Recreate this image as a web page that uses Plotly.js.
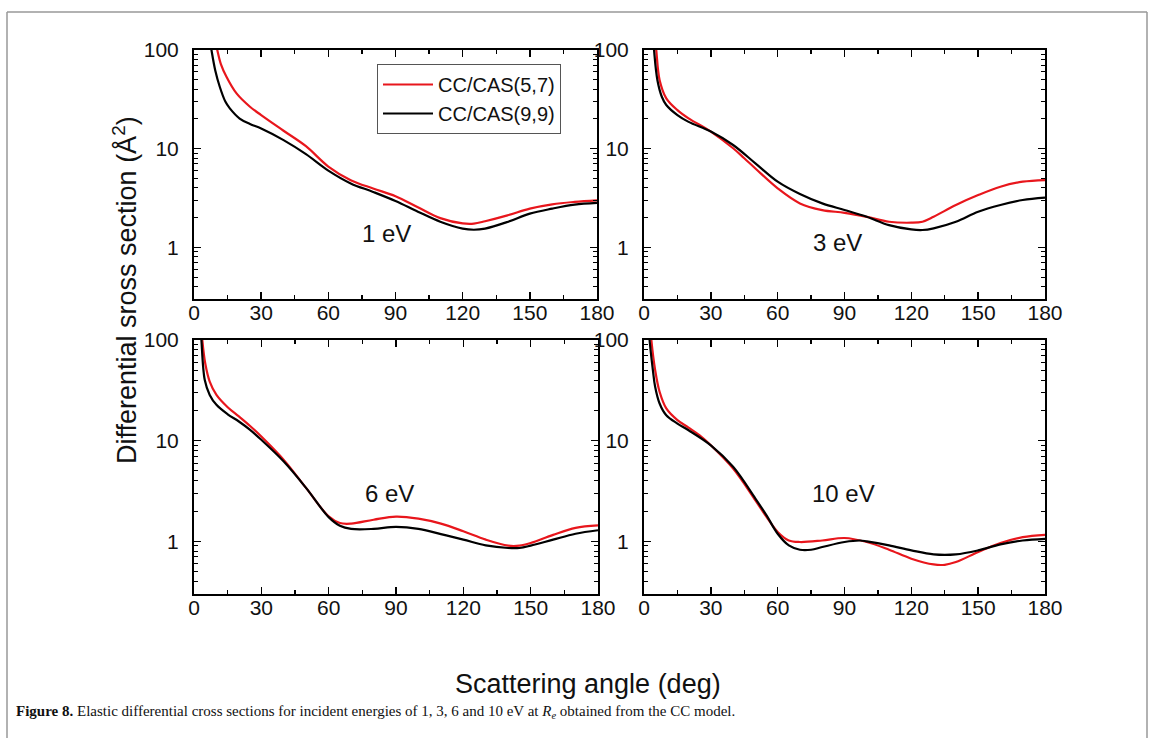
<!DOCTYPE html>
<html>
<head>
<meta charset="utf-8">
<script src="https://cdn.plot.ly/plotly-3.0.1.min.js"></script>
<style>html,body{margin:0;padding:0;background:#fff;}#chart{width:1154px;height:738px;}</style>
</head>
<body>
<div id="chart"></div>
<script>
// ---- data (scattering angle in deg, DCS in Å^2) ----
const seriesNames = ["CC/CAS(5,7)", "CC/CAS(9,9)"];
const panelLabels = ["1 eV", "3 eV", "6 eV", "10 eV"];
const xTickVals = [0, 30, 60, 90, 120, 150, 180];
const yTickVals = [1, 10, 100];

// 1 eV
const ang1_57 = [9, 10.4, 12, 14.5, 19, 25, 30, 40, 50, 60, 70, 80, 90, 100, 110, 120, 125, 130, 140, 150, 160, 170, 180];
const dcs1_57 = [140, 100, 72, 53.6, 36.3, 26.6, 21.9, 15.2, 10.6, 6.6, 4.8, 3.95, 3.3, 2.55, 1.98, 1.75, 1.74, 1.84, 2.11, 2.47, 2.73, 2.89, 3.0];
const ang1_99 = [6.8, 7.8, 9.5, 11.5, 14, 16, 20.4, 25, 30, 40, 50, 60, 70, 80, 90, 100, 110, 120, 125, 130, 140, 150, 160, 170, 180];
const dcs1_99 = [140, 100, 62, 42.4, 30, 25.6, 20.2, 17.8, 16.0, 12.2, 8.8, 6.0, 4.45, 3.65, 2.95, 2.3, 1.82, 1.55, 1.51, 1.55, 1.81, 2.2, 2.47, 2.71, 2.82];

// 3 eV
const ang3_57 = [4.8, 5.5, 7, 10, 15, 20, 30, 40, 45, 50, 60, 70, 80, 90, 100, 110, 120, 125, 130, 140, 150, 160, 170, 180];
const dcs3_57 = [140, 100, 49.7, 32.4, 24.6, 20.3, 14.9, 10.1, 8.0, 6.3, 3.96, 2.79, 2.39, 2.24, 2.04, 1.82, 1.78, 1.82, 2.04, 2.69, 3.39, 4.12, 4.63, 4.81];
const ang3_99 = [4, 4.5, 6, 8, 10, 15, 20, 30, 40, 50, 60, 70, 80, 90, 100, 110, 120, 125, 130, 140, 150, 160, 170, 180];
const dcs3_99 = [140, 100, 49.7, 33.6, 27.7, 21.9, 18.7, 14.9, 10.9, 7.1, 4.63, 3.47, 2.79, 2.39, 2.04, 1.68, 1.52, 1.5, 1.56, 1.82, 2.3, 2.69, 3.02, 3.19];

// 6 eV
const ang6_57 = [3.2, 3.7, 5, 7, 10, 15, 20, 25, 30, 40, 50, 60, 65, 70, 80, 90, 100, 110, 120, 130, 140, 145, 150, 160, 170, 180];
const dcs6_57 = [140, 100, 58.7, 38.6, 28.5, 21.5, 17.4, 14.0, 11.0, 6.45, 3.38, 1.77, 1.52, 1.50, 1.64, 1.76, 1.68, 1.50, 1.26, 1.04, 0.906, 0.906, 0.963, 1.16, 1.36, 1.44];
const ang6_99 = [2.9, 3.3, 4.8, 7, 10, 15, 20, 25, 30, 40, 50, 60, 65, 70, 80, 90, 100, 110, 120, 130, 140, 145, 150, 160, 170, 180];
const dcs6_99 = [140, 100, 40, 28.5, 22.7, 18.3, 15.5, 12.8, 10.2, 6.2, 3.38, 1.74, 1.43, 1.33, 1.33, 1.39, 1.33, 1.18, 1.04, 0.912, 0.859, 0.859, 0.906, 1.04, 1.19, 1.29];

// 10 eV
const ang10_57 = [2.8, 3.3, 5, 7, 10, 15, 20, 25, 30, 40, 50, 55, 60, 65, 70, 80, 90, 100, 110, 120, 130, 135, 140, 150, 160, 170, 180];
const dcs10_57 = [140, 100, 50.4, 30.6, 20.9, 16.0, 13.5, 11.3, 9.0, 5.28, 2.56, 1.75, 1.24, 1.02, 0.985, 1.02, 1.08, 0.985, 0.826, 0.673, 0.59, 0.585, 0.623, 0.783, 0.963, 1.10, 1.16];
const ang10_99 = [2.1, 2.5, 4, 5, 7, 10, 15, 20, 30, 40, 50, 55, 60, 65, 70, 75, 80, 90, 97, 100, 110, 120, 130, 140, 150, 160, 170, 180];
const dcs10_99 = [140, 100, 50, 34.3, 23.4, 17.9, 14.8, 12.7, 9.0, 5.5, 2.66, 1.81, 1.19, 0.912, 0.826, 0.826, 0.878, 0.985, 1.02, 1.0, 0.912, 0.814, 0.743, 0.743, 0.814, 0.933, 1.02, 1.06];

const panels = [
  {a57: ang1_57, d57: dcs1_57, a99: ang1_99, d99: dcs1_99, lx: 86.2, ly: 0.14},
  {a57: ang3_57, d57: dcs3_57, a99: ang3_99, d99: dcs3_99, lx: 87.0, ly: 0.054},
  {a57: ang6_57, d57: dcs6_57, a99: ang6_99, d99: dcs6_99, lx: 86.9, ly: 0.479},
  {a57: ang10_57, d57: dcs10_57, a99: ang10_99, d99: dcs10_99, lx: 89.4, ly: 0.474}
];

const W = 1154, H = 738;
const RED = "#e8161c", BLACK = "#000000";
const FONT = "Liberation Sans, Arial, sans-serif";

// panel frames in pixels: [left, right, top, bottom]
const frames = [[194, 597, 50, 299], [644, 1045, 50, 299], [194, 598, 340, 594], [644, 1045, 340, 594]];

const traces = [];
const layout = {
  width: W, height: H,
  margin: {l: 0, r: 0, t: 0, b: 0},
  paper_bgcolor: "#ffffff", plot_bgcolor: "#ffffff",
  font: {family: FONT, color: "#111", size: 21},
  showlegend: true,
  legend: {
    x: 377 / W, y: 1 - 64 / H, xanchor: "left", yanchor: "top",
    bgcolor: "#ffffff", bordercolor: "#555", borderwidth: 1,
    font: {family: FONT, size: 20, color: "#111"},
    itemwidth: 50, tracegroupgap: 0
  },
  annotations: [],
  shapes: [
    {type: "line", xref: "paper", yref: "paper", x0: 7 / W, x1: 7 / W, y0: 0, y1: 1 - 12 / H, line: {color: "#999", width: 1.5}},
    {type: "line", xref: "paper", yref: "paper", x0: 7 / W, x1: 1147 / W, y0: 1 - 12 / H, y1: 1 - 12 / H, line: {color: "#999", width: 1.5}},
    {type: "line", xref: "paper", yref: "paper", x0: 1147 / W, x1: 1147 / W, y0: 0, y1: 1 - 12 / H, line: {color: "#999", width: 1.5}}
  ]
};

panels.forEach((p, i) => {
  const n = i + 1;
  const xa = n === 1 ? "x" : "x" + n;
  const ya = n === 1 ? "y" : "y" + n;
  traces.push({
    x: p.a57, y: p.d57, xaxis: xa, yaxis: ya, type: "scatter", mode: "lines",
    name: seriesNames[0], showlegend: n === 1, legendgroup: "a",
    line: {color: RED, width: 2.2, shape: "spline", smoothing: 1}
  });
  traces.push({
    x: p.a99, y: p.d99, xaxis: xa, yaxis: ya, type: "scatter", mode: "lines",
    name: seriesNames[1], showlegend: n === 1, legendgroup: "b",
    line: {color: BLACK, width: 2.2, shape: "spline", smoothing: 1}
  });
  const f = frames[i];
  const xkey = n === 1 ? "xaxis" : "xaxis" + n;
  const ykey = n === 1 ? "yaxis" : "yaxis" + n;
  layout[xkey] = {
    domain: [f[0] / W, f[1] / W], anchor: ya, range: [0, 180],
    tickvals: xTickVals, ticktext: xTickVals.map(String),
    ticks: "inside", ticklen: 7, tickwidth: 1.5, tickcolor: "#000",
    minor: {dtick: 15, tick0: 0, ticks: "inside", ticklen: 4, tickwidth: 1.2, tickcolor: "#000"},
    showline: true, linewidth: 2, linecolor: "#000", mirror: "allticks",
    showgrid: false, zeroline: false, ticklabelstandoff: -6,
    tickfont: {family: FONT, size: 21, color: "#111"}, fixedrange: true
  };
  layout[ykey] = {
    domain: [1 - f[3] / H, 1 - f[2] / H], anchor: xa, type: "log",
    range: [Math.log10(0.3), 2],
    tickvals: yTickVals, ticktext: yTickVals.map(String),
    ticks: "inside", ticklen: 7, tickwidth: 1.5, tickcolor: "#000",
    minor: {dtick: "D1", ticks: "inside", ticklen: 4, tickwidth: 1, tickcolor: "#000"},
    showline: true, linewidth: 2, linecolor: "#000", mirror: "allticks",
    showgrid: false, zeroline: false, ticklabelstandoff: 9,
    tickfont: {family: FONT, size: 21, color: "#111"}, fixedrange: true
  };
  layout.annotations.push({
    xref: xa, yref: ya, x: p.lx, y: p.ly, text: panelLabels[i], showarrow: false,
    font: {family: FONT, size: 24, color: "#111"}, xanchor: "center", yanchor: "middle"
  });
});

// axis titles
layout.annotations.push({
  xref: "paper", yref: "paper", x: 125 / W, y: 1 - 290 / H, textangle: -90,
  text: "Differential sross section (Å<sup>2</sup>)", showarrow: false,
  font: {family: FONT, size: 27, color: "#111"}, xanchor: "center", yanchor: "middle"
});
layout.annotations.push({
  xref: "paper", yref: "paper", x: 588 / W, y: 1 - 684 / H,
  text: "Scattering angle (deg)", showarrow: false,
  font: {family: FONT, size: 27, color: "#111"}, xanchor: "center", yanchor: "middle"
});
// caption
layout.annotations.push({
  xref: "paper", yref: "paper", x: 14 / W, y: 1 - 712 / H,
  text: "<b>Figure 8.</b> Elastic differential cross sections for incident energies of 1, 3, 6 and 10 eV at <i>R<sub>e</sub></i> obtained from the CC model.",
  showarrow: false, font: {family: "Liberation Serif, Times New Roman, serif", size: 15, color: "#111"},
  xanchor: "left", yanchor: "middle"
});

Plotly.newPlot("chart", traces, layout, {displayModeBar: false, staticPlot: true});
</script>
</body>
</html>
